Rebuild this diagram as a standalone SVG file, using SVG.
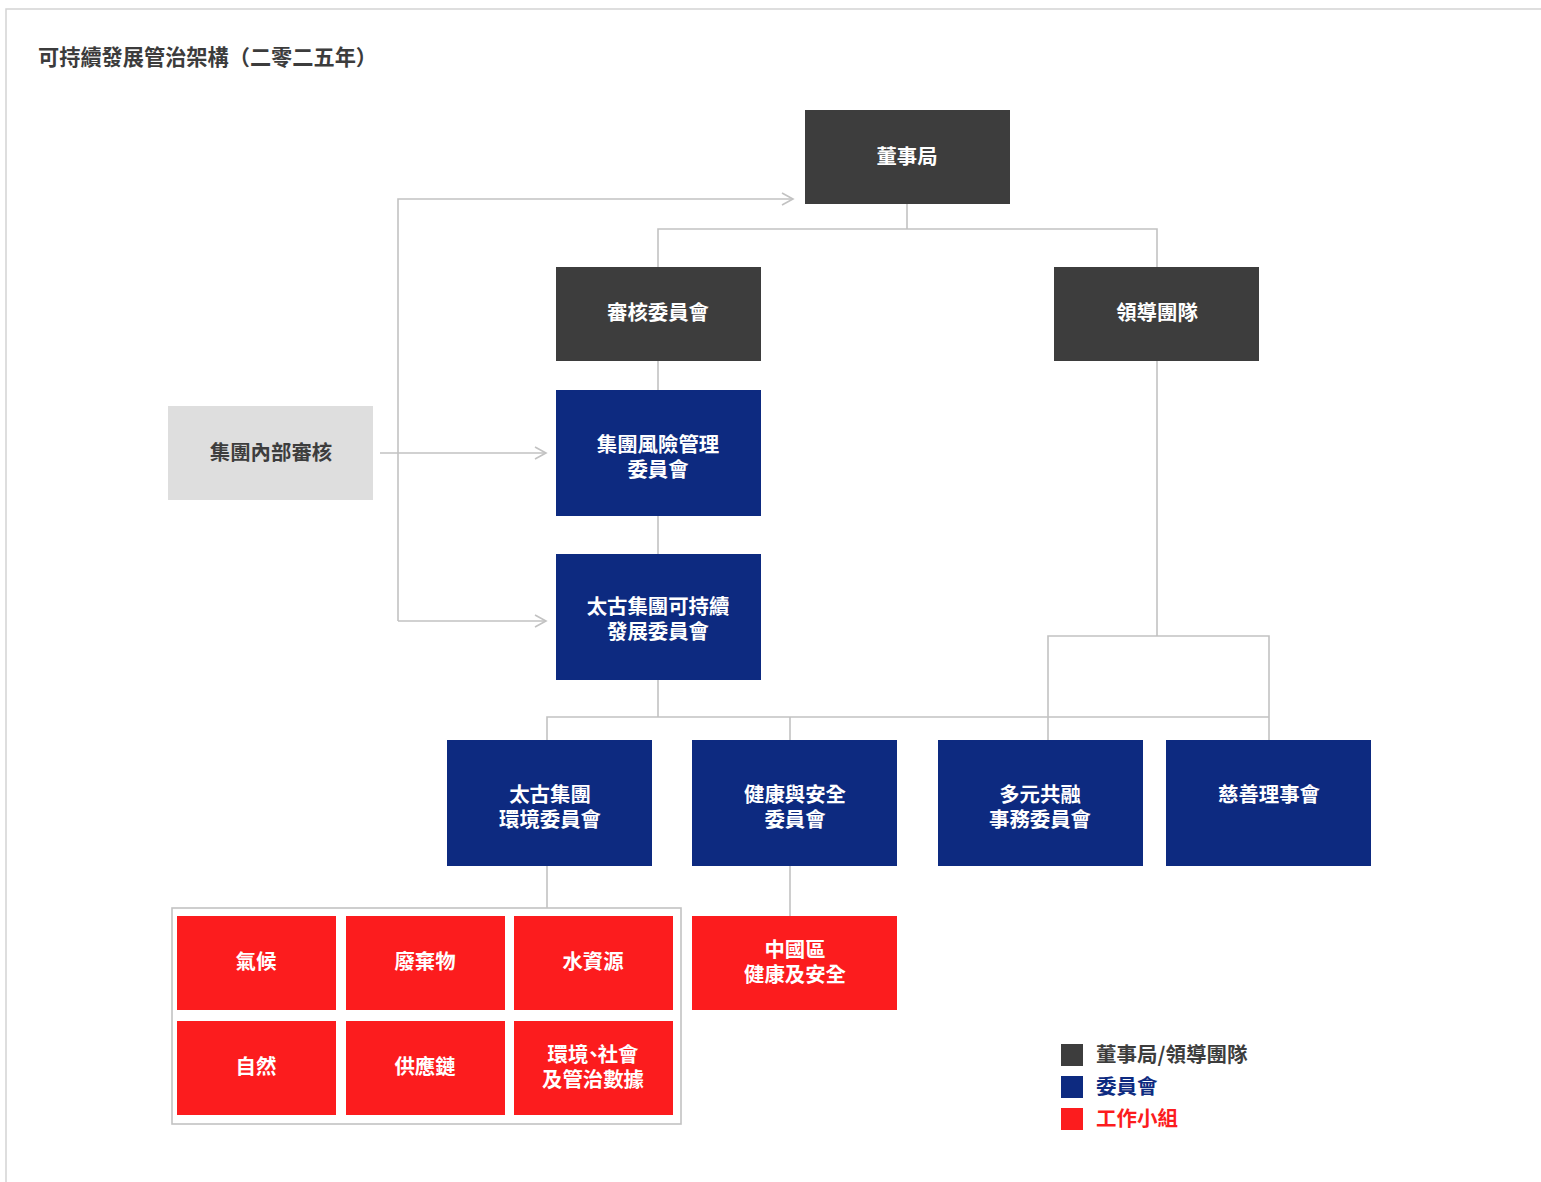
<svg xmlns="http://www.w3.org/2000/svg" width="1541" height="1182" viewBox="0 0 1541 1182">
<style>
.t{font-family:"Noto Sans CJK TC","Noto Sans CJK SC",sans-serif;font-weight:700;font-size:20.4px;text-anchor:middle;fill:#fff}
.dk{fill:#3d3d3d}.bl{fill:#0d2a80}.rd{fill:#fc1c1e}.gy{fill:#dedede}
.ln{fill:none;stroke:#c2c2c2;stroke-width:1.6}
.lg{font-family:"Noto Sans CJK TC","Noto Sans CJK SC",sans-serif;font-weight:700;font-size:20.5px}
</style>
<defs>
<marker id="ar" markerUnits="userSpaceOnUse" markerWidth="16" markerHeight="16" refX="13" refY="8" orient="auto">
<path d="M2,2 L13,8 L2,14" fill="none" stroke="#c2c2c2" stroke-width="1.6"/>
</marker>
</defs>
<rect width="1541" height="1182" fill="#fff"/>
<path d="M6,1182 V9 H1541" fill="none" stroke="#d4d4d4" stroke-width="1.5"/>
<text x="38" y="65" class="lg" style="fill:#3c3c3c;font-size:21.2px">可持續發展管治架構（二零二五年）</text>

<g id="connectors">
<path class="ln" d="M907,204 V229 M658,267 V229 H1157 V267"/>
<path class="ln" d="M658,361 V390 M658,516 V554"/>
<path class="ln" marker-end="url(#ar)" d="M380,453 H546"/>
<path class="ln" marker-end="url(#ar)" d="M398,621 V199 H793"/>
<path class="ln" marker-end="url(#ar)" d="M398,621 H546"/>
<path class="ln" d="M658,680 V717 M547,740 V717 H1269 M790,717 V740"/>
<path class="ln" d="M1157,361 V636 M1048,740 V636 H1269 V740"/>
<path class="ln" d="M547,866 V908 M790,866 V916"/>
<rect class="ln" x="172" y="908" width="509" height="216"/>
</g>

<g id="board"><rect class="dk" x="805" y="110" width="205" height="94"/><text class="t" x="907" y="164">董事局</text></g>
<g id="audit-committee"><rect class="dk" x="556" y="267" width="205" height="94"/><text class="t" x="658" y="320">審核委員會</text></g>
<g id="leadership"><rect class="dk" x="1054" y="267" width="205" height="94"/><text class="t" x="1157" y="320">領導團隊</text></g>
<g id="internal-audit"><rect class="gy" x="168" y="406" width="205" height="94"/><text class="t" x="271" y="460" style="fill:#3d3d3d">集團內部審核</text></g>
<g id="risk"><rect class="bl" x="556" y="390" width="205" height="126"/><text class="t" x="658" y="452">集團風險管理</text><text class="t" x="658" y="477">委員會</text></g>
<g id="sdc"><rect class="bl" x="556" y="554" width="205" height="126"/><text class="t" x="658" y="614">太古集團可持續</text><text class="t" x="658" y="639">發展委員會</text></g>
<g id="env"><rect class="bl" x="447" y="740" width="205" height="126"/><text class="t" x="550" y="802">太古集團</text><text class="t" x="550" y="827">環境委員會</text></g>
<g id="hs"><rect class="bl" x="692" y="740" width="205" height="126"/><text class="t" x="795" y="802">健康與安全</text><text class="t" x="795" y="827">委員會</text></g>
<g id="dei"><rect class="bl" x="938" y="740" width="205" height="126"/><text class="t" x="1040" y="802">多元共融</text><text class="t" x="1040" y="827">事務委員會</text></g>
<g id="charity"><rect class="bl" x="1166" y="740" width="205" height="126"/><text class="t" x="1269" y="802">慈善理事會</text></g>

<g id="climate"><rect class="rd" x="177" y="916" width="159" height="94"/><text class="t" x="256" y="969">氣候</text></g>
<g id="waste"><rect class="rd" x="346" y="916" width="159" height="94"/><text class="t" x="425" y="969">廢棄物</text></g>
<g id="water"><rect class="rd" x="514" y="916" width="159" height="94"/><text class="t" x="593" y="969">水資源</text></g>
<g id="nature"><rect class="rd" x="177" y="1021" width="159" height="94"/><text class="t" x="256" y="1074">自然</text></g>
<g id="supply"><rect class="rd" x="346" y="1021" width="159" height="94"/><text class="t" x="425" y="1074">供應鏈</text></g>
<g id="esg-data"><rect class="rd" x="514" y="1021" width="159" height="94"/><text class="t" x="593" y="1062">環境<tspan dx="-5">、</tspan><tspan dx="-6">社會</tspan></text><text class="t" x="593" y="1087">及管治數據</text></g>
<g id="china-hs"><rect class="rd" x="692" y="916" width="205" height="94"/><text class="t" x="795" y="957">中國區</text><text class="t" x="795" y="982">健康及安全</text></g>

<g id="legend">
<rect class="dk" x="1061" y="1044" width="22" height="22"/><text class="lg" x="1096" y="1062" style="fill:#3d3d3d">董事局/領導團隊</text>
<rect class="bl" x="1061" y="1076" width="22" height="22"/><text class="lg" x="1096" y="1094" style="fill:#0d2a80">委員會</text>
<rect class="rd" x="1061" y="1108" width="22" height="22"/><text class="lg" x="1096" y="1126" style="fill:#fc1c1e">工作小組</text>
</g>
</svg>
